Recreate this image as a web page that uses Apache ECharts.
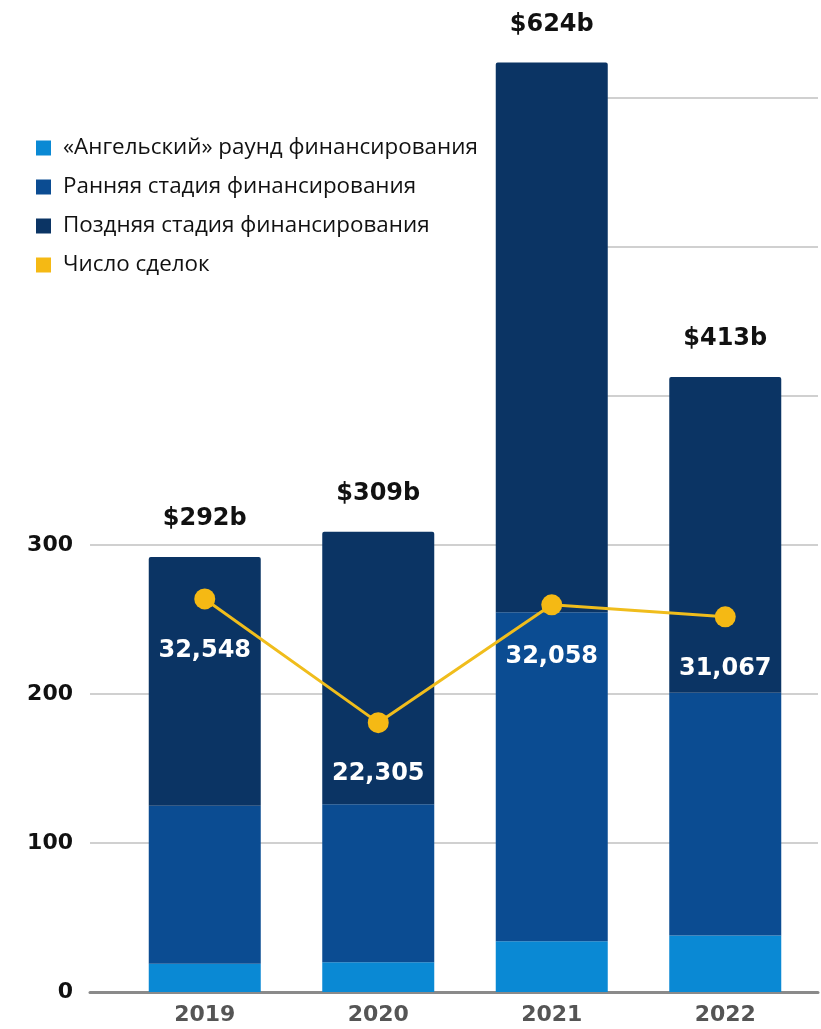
<!DOCTYPE html>
<html><head><meta charset="utf-8">
<script src="https://cdn.jsdelivr.net/npm/echarts@6/dist/echarts.min.js"></script>
<style>html,body{margin:0;padding:0;background:#fff}#c{width:821px;height:1029px}</style>
</head><body><div id="c"></div>
<script>
const years = ['2019','2020','2021','2022'];
const angel = [19, 20, 34, 38];
const early = [106, 106, 221, 163];
const late = [167, 183, 369, 212];
const totals = ['$292b','$309b','$624b','$413b'];
const deals = [32548, 22305, 32058, 31067];
const yTicks = [0, 100, 200, 300];
const names = ['«Ангельский» раунд финансирования','Ранняя стадия финансирования','Поздняя стадия финансирования','Число сделок'];

const chart = echarts.init(document.getElementById('c'));
const bold = '"DejaVu Sans", sans-serif';
chart.setOption({
  animation: false,
  legend: {
    orient: 'vertical', left: 31, top: 132, itemGap: 17,
    itemWidth: 15, itemHeight: 15, icon: 'rect',
    textStyle: {fontFamily: '"Open Sans","Noto Sans",sans-serif', fontSize: 22.4, color: '#111', padding:[0,0,0,7]},
    data: names
  },
  graphic: [{type:'rect', shape:{x:0,y:0,width:496,height:470}, style:{fill:'#fff'}, z:1, silent:true}],
  grid: [
    {left: 118, right: 9, top: 9, bottom: 37},
    {left: 90, right: 3, top: 98, bottom: 37}
  ],
  xAxis: [
    {type:'category', gridIndex:0, data: years, axisLine:{show:false}, axisTick:{show:false},
     axisLabel:{fontFamily: bold, fontWeight:'bold', fontSize:22, color:'#555', margin:12}},
    {type:'value', gridIndex:1, min:0, max:1, axisLine:{show:true, lineStyle:{color:'#8a8a8a', width:3}},
     axisTick:{show:false}, axisLabel:{show:false}, splitLine:{show:false}}
  ],
  yAxis: [
    {type:'value', gridIndex:0, min:0, max:660, show:false},
    {type:'value', gridIndex:0, min:0, max:81400, show:false},
    {type:'value', gridIndex:1, min:0, max:600, interval:100,
     axisLine:{show:false}, axisTick:{show:false},
     splitLine:{lineStyle:{color:'#d0d0d0', width:2}},
     axisLabel:{fontFamily: bold, fontWeight:'bold', fontSize:22, color:'#111', margin:17,
       formatter: v => yTicks.includes(v) ? String(v) : ''}}
  ],
  series: [
    {name: names[0], type:'bar', stack:'s', xAxisIndex:0, yAxisIndex:0, barWidth:112, data: angel,
     itemStyle:{color:'#0a89d4'}},
    {name: names[1], type:'bar', stack:'s', xAxisIndex:0, yAxisIndex:0, barWidth:112, data: early,
     itemStyle:{color:'#0b4c92'}},
    {name: names[2], type:'bar', stack:'s', xAxisIndex:0, yAxisIndex:0, barWidth:112, data: late,
     itemStyle:{color:'#0b3464', borderRadius:[2,2,0,0]},
     label:{show:true, position:'top', distance:26, fontFamily: bold, fontWeight:'bold', fontSize:24, color:'#111',
       formatter: p => totals[p.dataIndex]}},
    {name: names[3], type:'line', xAxisIndex:0, yAxisIndex:1, data: deals, z:5,
     symbol:'circle', symbolSize:21, itemStyle:{color:'#f5b914'},
     lineStyle:{color:'#f0bd1c', width:3},
     label:{show:true, position:'bottom', distance:29, fontFamily: bold, fontWeight:'bold', fontSize:24, color:'#fff',
       formatter: p => p.value.toLocaleString('en-US')}}
  ]
});
</script></body></html>
